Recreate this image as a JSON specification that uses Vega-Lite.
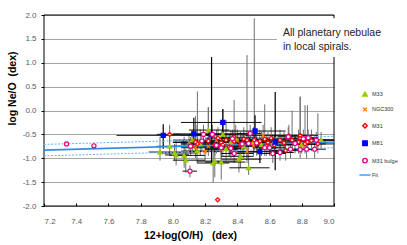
{
  "$schema": "https://vega.github.io/schema/vega-lite/v6.json",
  "width": 290,
  "height": 191,
  "autosize": "none",
  "padding": {"left": 44, "top": 15, "right": 73, "bottom": 39},
  "background": "white",
  "config": {
    "view": {"stroke": null},
    "font": "Liberation Sans",
    "axis": {"labelFont": "Liberation Sans", "titleFont": "Liberation Sans", "labelOverlap": false}
  },
  "datasets": {
    "pts": [
      {"g": "M33", "x": 7.92, "y": -0.87, "x1": 7.85, "x2": 8.05, "y1": -1.05, "y2": -0.55},
      {"g": "M33", "x": 7.98, "y": -0.75, "x1": 7.9, "x2": 8.1, "y1": -0.95, "y2": -0.5},
      {"g": "M33", "x": 8.01, "y": -0.89, "x1": 7.92, "x2": 8.15, "y1": -1.05, "y2": -0.7},
      {"g": "M33", "x": 8.02, "y": -0.93, "x1": 7.95, "x2": 8.1, "y1": -1.15, "y2": -0.65},
      {"g": "M33", "x": 8.07, "y": -0.94, "x1": 7.98, "x2": 8.2, "y1": -1.2, "y2": -0.55},
      {"g": "M33", "x": 8.08, "y": -1.04, "x1": 8.0, "x2": 8.2, "y1": -1.3, "y2": -0.8},
      {"g": "M33", "x": 8.15, "y": -0.85, "x1": 8.05, "x2": 8.3, "y1": -1.1, "y2": -0.3},
      {"g": "M33", "x": 8.17, "y": -0.7, "x1": 8.05, "x2": 8.3, "y1": -0.95, "y2": -0.4},
      {"g": "M33", "x": 8.22, "y": -0.41, "x1": 8.1, "x2": 8.35, "y1": -0.7, "y2": 0.07},
      {"g": "M33", "x": 8.25, "y": -1.1, "x1": 8.15, "x2": 8.35, "y1": -1.52, "y2": -0.75},
      {"g": "M33", "x": 8.26, "y": -1.06, "x1": 8.15, "x2": 8.4, "y1": -1.4, "y2": -0.6},
      {"g": "M33", "x": 8.3, "y": -1.08, "x1": 8.2, "x2": 8.45, "y1": -1.45, "y2": -0.8},
      {"g": "M33", "x": 8.31, "y": -0.5, "x1": 8.2, "x2": 8.4, "y1": -0.8, "y2": -0.2},
      {"g": "M33", "x": 8.33, "y": -0.8, "x1": 8.2, "x2": 8.45, "y1": -1.05, "y2": -0.5},
      {"g": "M33", "x": 8.39, "y": -0.59, "x1": 8.3, "x2": 8.5, "y1": -0.9, "y2": -0.3},
      {"g": "M33", "x": 8.41, "y": -1.02, "x1": 8.3, "x2": 8.55, "y1": -1.3, "y2": -0.7},
      {"g": "M33", "x": 8.42, "y": -0.96, "x1": 8.3, "x2": 8.5, "y1": -1.2, "y2": -0.6},
      {"g": "M33", "x": 8.47, "y": -1.2, "x1": 8.35, "x2": 8.6, "y1": -1.35, "y2": -0.9},
      {"g": "M33", "x": 8.44, "y": -0.75, "x1": 8.3, "x2": 8.6, "y1": -1.0, "y2": -0.5},
      {"g": "M33", "x": 8.5, "y": -0.66, "x1": 8.4, "x2": 8.6, "y1": -0.9, "y2": -0.35},
      {"g": "M33", "x": 8.55, "y": -0.72, "x1": 8.45, "x2": 8.65, "y1": -0.95, "y2": -0.45},
      {"g": "M33", "x": 8.62, "y": -0.7, "x1": 8.5, "x2": 8.75, "y1": -0.95, "y2": -0.5},
      {"g": "M33", "x": 8.8, "y": -0.71, "x1": 8.7, "x2": 8.9, "y1": -0.9, "y2": -0.5},
      {"g": "M33", "x": 8.92, "y": -0.61, "x1": 8.85, "x2": 9.0, "y1": -0.8, "y2": -0.45},
      {"g": "M33", "x": 8.12, "y": -0.62, "x1": 8.0, "x2": 8.25, "y1": -0.85, "y2": -0.4},
      {"g": "M33", "x": 8.36, "y": -0.66, "x1": 8.25, "x2": 8.45, "y1": -0.9, "y2": -0.4},
      {"g": "NGC300", "x": 8.1, "y": -0.67, "x1": 8.0, "x2": 8.2, "y1": -0.85, "y2": -0.5},
      {"g": "NGC300", "x": 8.154, "y": -0.66, "x1": 8.05, "x2": 8.25, "y1": -0.9, "y2": -0.45},
      {"g": "NGC300", "x": 8.22, "y": -0.75, "x1": 8.1, "x2": 8.35, "y1": -0.95, "y2": -0.55},
      {"g": "NGC300", "x": 8.27, "y": -0.63, "x1": 8.15, "x2": 8.4, "y1": -0.85, "y2": -0.4},
      {"g": "NGC300", "x": 8.2, "y": -0.86, "x1": 8.1, "x2": 8.3, "y1": -1.05, "y2": -0.65},
      {"g": "NGC300", "x": 8.46, "y": -0.87, "x1": 8.35, "x2": 8.55, "y1": -1.1, "y2": -0.6},
      {"g": "NGC300", "x": 8.56, "y": -0.52, "x1": 8.45, "x2": 8.7, "y1": -0.75, "y2": -0.3},
      {"g": "NGC300", "x": 8.35, "y": -0.72, "x1": 8.25, "x2": 8.45, "y1": -0.95, "y2": -0.5},
      {"g": "NGC300", "x": 8.4, "y": -0.63, "x1": 8.3, "x2": 8.5, "y1": -0.85, "y2": -0.4},
      {"g": "NGC300", "x": 8.3, "y": -0.82, "x1": 8.2, "x2": 8.4, "y1": -1.05, "y2": -0.6},
      {"g": "NGC300", "x": 8.14, "y": -0.78, "x1": 8.05, "x2": 8.25, "y1": -1.0, "y2": -0.55},
      {"g": "NGC300", "x": 8.5, "y": -0.74, "x1": 8.4, "x2": 8.6, "y1": -0.95, "y2": -0.5},
      {"g": "M31", "x": 7.98, "y": -0.5, "x1": 7.9, "x2": 8.05, "y1": -0.7, "y2": -0.3},
      {"g": "M31", "x": 8.278, "y": -1.87, "x1": 8.278, "x2": 8.278, "y1": -1.87, "y2": -1.87},
      {"g": "M31", "x": 8.26, "y": -0.72, "x1": 8.15, "x2": 8.35, "y1": -0.95, "y2": -0.5},
      {"g": "M31", "x": 8.3, "y": -0.67, "x1": 8.2, "x2": 8.4, "y1": -0.9, "y2": -0.45},
      {"g": "M31", "x": 8.28, "y": -0.58, "x1": 8.2, "x2": 8.4, "y1": -0.8, "y2": -0.35},
      {"g": "M31", "x": 8.33, "y": -0.62, "x1": 8.2, "x2": 8.45, "y1": -0.85, "y2": -0.2},
      {"g": "M31", "x": 8.35, "y": -0.76, "x1": 8.25, "x2": 8.45, "y1": -0.95, "y2": -0.55},
      {"g": "M31", "x": 8.38, "y": -0.65, "x1": 8.3, "x2": 8.5, "y1": -0.9, "y2": -0.4},
      {"g": "M31", "x": 8.42, "y": -0.72, "x1": 8.3, "x2": 8.55, "y1": -0.95, "y2": -0.45},
      {"g": "M31", "x": 8.44, "y": -0.6, "x1": 8.35, "x2": 8.55, "y1": -0.8, "y2": -0.35},
      {"g": "M31", "x": 8.46, "y": -0.62, "x1": 8.35, "x2": 8.6, "y1": -1.0, "y2": 1.16},
      {"g": "M31", "x": 8.505, "y": -0.62, "x1": 8.4, "x2": 8.6, "y1": -0.85, "y2": 1.93},
      {"g": "M31", "x": 8.52, "y": -0.7, "x1": 8.4, "x2": 8.65, "y1": -0.95, "y2": -0.45},
      {"g": "M31", "x": 8.54, "y": -0.64, "x1": 8.45, "x2": 8.65, "y1": -0.85, "y2": -0.4},
      {"g": "M31", "x": 8.57, "y": -0.6, "x1": 8.45, "x2": 8.7, "y1": -0.8, "y2": 0.13},
      {"g": "M31", "x": 8.59, "y": -0.67, "x1": 8.5, "x2": 8.7, "y1": -0.9, "y2": -0.45},
      {"g": "M31", "x": 8.61, "y": -0.58, "x1": 8.5, "x2": 8.75, "y1": -0.8, "y2": -0.35},
      {"g": "M31", "x": 8.63, "y": -0.72, "x1": 8.5, "x2": 8.75, "y1": -0.95, "y2": -0.5},
      {"g": "M31", "x": 8.665, "y": -0.62, "x1": 8.55, "x2": 8.8, "y1": -0.85, "y2": -0.4},
      {"g": "M31", "x": 8.69, "y": -0.68, "x1": 8.6, "x2": 8.8, "y1": -0.9, "y2": -0.45},
      {"g": "M31", "x": 8.7, "y": -0.84, "x1": 8.6, "x2": 8.8, "y1": -1.05, "y2": -0.6},
      {"g": "M31", "x": 8.72, "y": -0.53, "x1": 8.6, "x2": 8.85, "y1": -0.75, "y2": -0.3},
      {"g": "M31", "x": 8.74, "y": -0.62, "x1": 8.65, "x2": 8.85, "y1": -0.85, "y2": 0.0},
      {"g": "M31", "x": 8.78, "y": -0.66, "x1": 8.7, "x2": 8.9, "y1": -0.9, "y2": -0.4},
      {"g": "M31", "x": 8.79, "y": -0.58, "x1": 8.7, "x2": 8.9, "y1": -0.8, "y2": 0.29},
      {"g": "M31", "x": 8.82, "y": -0.7, "x1": 8.72, "x2": 8.95, "y1": -0.9, "y2": 0.11},
      {"g": "M31", "x": 8.835, "y": -0.66, "x1": 8.75, "x2": 8.95, "y1": -0.85, "y2": 0.11},
      {"g": "M31", "x": 8.86, "y": -0.63, "x1": 8.75, "x2": 9.0, "y1": -0.85, "y2": -0.4},
      {"g": "M31", "x": 8.38, "y": -0.56, "x1": 8.3, "x2": 8.5, "y1": -0.75, "y2": 0.22},
      {"g": "M31", "x": 8.152, "y": -0.7, "x1": 8.05, "x2": 8.3, "y1": -0.9, "y2": 0.4},
      {"g": "M31", "x": 8.22, "y": -0.64, "x1": 8.1, "x2": 8.35, "y1": -0.85, "y2": 0.07},
      {"g": "M31", "x": 8.31, "y": -0.72, "x1": 8.2, "x2": 8.45, "y1": -0.95, "y2": 0.03},
      {"g": "M31", "x": 8.58, "y": -0.74, "x1": 8.45, "x2": 8.7, "y1": -0.95, "y2": -0.5},
      {"g": "M31", "x": 8.14, "y": -0.66, "x1": 8.0, "x2": 8.25, "y1": -0.9, "y2": -0.12},
      {"g": "M31", "x": 8.9, "y": -0.7, "x1": 8.8, "x2": 9.0, "y1": -0.9, "y2": -0.06},
      {"g": "M31", "x": 8.79, "y": -0.52, "x1": 8.7, "x2": 8.9, "y1": -0.7, "y2": 0.29},
      {"g": "M81", "x": 7.94, "y": -0.52, "x1": 7.65, "x2": 8.25, "y1": -0.8, "y2": -0.29},
      {"g": "M81", "x": 8.13, "y": -0.49, "x1": 8.0, "x2": 8.45, "y1": -0.75, "y2": -0.15},
      {"g": "M81", "x": 8.24, "y": -0.51, "x1": 8.05, "x2": 8.5, "y1": -1.1, "y2": 1.12},
      {"g": "M81", "x": 8.31, "y": -0.25, "x1": 8.05, "x2": 8.55, "y1": -0.6, "y2": 0.03},
      {"g": "M81", "x": 8.51, "y": -0.43, "x1": 8.3, "x2": 8.7, "y1": -0.7, "y2": -0.1},
      {"g": "M81", "x": 8.54, "y": -0.86, "x1": 8.4, "x2": 8.7, "y1": -1.1, "y2": -0.6},
      {"g": "M81", "x": 8.635, "y": -0.66, "x1": 8.5, "x2": 8.8, "y1": -1.25, "y2": 0.39},
      {"g": "M31 bulge", "x": 7.34, "y": -0.7, "x1": 7.34, "x2": 7.34, "y1": -0.7, "y2": -0.7},
      {"g": "M31 bulge", "x": 7.51, "y": -0.74, "x1": 7.51, "x2": 7.51, "y1": -0.74, "y2": -0.74},
      {"g": "M31 bulge", "x": 8.106, "y": -1.27, "x1": 8.06, "x2": 8.15, "y1": -1.4, "y2": -1.15},
      {"g": "M31 bulge", "x": 8.19, "y": -0.5, "x1": 8.1, "x2": 8.3, "y1": -0.7, "y2": -0.3},
      {"g": "M31 bulge", "x": 8.18, "y": -0.64, "x1": 8.1, "x2": 8.3, "y1": -0.85, "y2": -0.45},
      {"g": "M31 bulge", "x": 8.11, "y": -0.75, "x1": 8.0, "x2": 8.2, "y1": -0.95, "y2": -0.55},
      {"g": "M31 bulge", "x": 8.27, "y": -0.73, "x1": 8.2, "x2": 8.35, "y1": -0.9, "y2": -0.55},
      {"g": "M31 bulge", "x": 8.245, "y": -0.5, "x1": 8.15, "x2": 8.35, "y1": -0.7, "y2": -0.3},
      {"g": "M31 bulge", "x": 8.37, "y": -0.59, "x1": 8.3, "x2": 8.45, "y1": -0.8, "y2": -0.4},
      {"g": "M31 bulge", "x": 8.38, "y": -0.9, "x1": 8.3, "x2": 8.5, "y1": -1.1, "y2": -0.7},
      {"g": "M31 bulge", "x": 8.48, "y": -0.48, "x1": 8.4, "x2": 8.55, "y1": -0.7, "y2": -0.3},
      {"g": "M31 bulge", "x": 8.47, "y": -0.69, "x1": 8.4, "x2": 8.55, "y1": -0.9, "y2": -0.5},
      {"g": "M31 bulge", "x": 8.57, "y": -0.78, "x1": 8.5, "x2": 8.65, "y1": -0.95, "y2": -0.6},
      {"g": "M31 bulge", "x": 8.6, "y": -0.78, "x1": 8.5, "x2": 8.7, "y1": -0.95, "y2": -0.6},
      {"g": "M31 bulge", "x": 8.62, "y": -0.9, "x1": 8.55, "x2": 8.7, "y1": -1.1, "y2": -0.7},
      {"g": "M31 bulge", "x": 8.36, "y": -0.79, "x1": 8.3, "x2": 8.45, "y1": -1.0, "y2": -0.6},
      {"g": "M31 bulge", "x": 8.665, "y": -0.88, "x1": 8.6, "x2": 8.75, "y1": -1.05, "y2": -0.7},
      {"g": "M31 bulge", "x": 8.716, "y": -0.55, "x1": 8.65, "x2": 8.8, "y1": -0.75, "y2": -0.35},
      {"g": "M31 bulge", "x": 8.73, "y": -0.81, "x1": 8.65, "x2": 8.8, "y1": -1.0, "y2": -0.6},
      {"g": "M31 bulge", "x": 8.758, "y": -0.69, "x1": 8.7, "x2": 8.85, "y1": -0.9, "y2": -0.5},
      {"g": "M31 bulge", "x": 8.79, "y": -0.82, "x1": 8.7, "x2": 8.85, "y1": -1.0, "y2": -0.65},
      {"g": "M31 bulge", "x": 8.81, "y": -0.59, "x1": 8.75, "x2": 8.9, "y1": -0.8, "y2": -0.4},
      {"g": "M31 bulge", "x": 8.84, "y": -0.57, "x1": 8.75, "x2": 8.9, "y1": -0.75, "y2": -0.4},
      {"g": "M31 bulge", "x": 8.83, "y": -0.81, "x1": 8.75, "x2": 8.9, "y1": -1.0, "y2": -0.65},
      {"g": "M31 bulge", "x": 8.88, "y": -0.81, "x1": 8.8, "x2": 8.95, "y1": -1.0, "y2": -0.65},
      {"g": "M31 bulge", "x": 8.89, "y": -0.62, "x1": 8.8, "x2": 8.95, "y1": -0.8, "y2": -0.45},
      {"g": "M31 bulge", "x": 8.3, "y": -0.78, "x1": 8.2, "x2": 8.4, "y1": -0.95, "y2": -0.6},
      {"g": "M31 bulge", "x": 8.52, "y": -0.68, "x1": 8.45, "x2": 8.6, "y1": -0.85, "y2": -0.5},
      {"g": "M31 bulge", "x": 8.43, "y": -0.7, "x1": 8.35, "x2": 8.5, "y1": -0.9, "y2": -0.5}
    ],
    "fit": [
      {"k": "fit", "x": 7.2, "y": -0.83},
      {"k": "fit", "x": 9.0, "y": -0.66},
      {"k": "upper", "x": 7.2, "y": -0.71},
      {"k": "upper", "x": 9.0, "y": -0.54},
      {"k": "lower", "x": 7.2, "y": -0.95},
      {"k": "lower", "x": 9.0, "y": -0.78}
    ],
    "note": [
      {"t": "All planetary nebulae", "x": 8.683, "y": 1.62},
      {"t": "in local spirals.", "x": 8.683, "y": 1.33}
    ],
    "frame": [{"x": 7.2, "x2": 9.0, "y": -2.0, "y2": 2.0}],
    "box": [{"x": 8.645, "x2": 9.36, "y": 1.12, "y2": 1.93}]
  },
  "layer": [
    {
      "data": {"name": "frame"},
      "mark": {"type": "rect", "fill": null, "fillOpacity": 0, "stroke": "#000000", "strokeWidth": 1},
      "encoding": {
        "x": {"field": "x", "type": "quantitative",
          "scale": {"domain": [7.2, 9.0], "nice": false, "zero": false},
          "axis": {
            "values": [7.2, 7.4, 7.6, 7.8, 8.0, 8.2, 8.4, 8.6, 8.8, 9.0], "tickCount": 30,
            "format": ".1f", "grid": false, "domain": false, "labelOverlap": false,
            "ticks": true, "tickSize": -3, "tickColor": "#000000",
            "labelFontSize": 8, "labelColor": "#595959", "labelPadding": 14,
            "title": "12+log(O/H)\u00a0\u00a0\u00a0(dex)",
            "titleFontSize": 10.5, "titleFontWeight": "bold", "titleColor": "#000000",
            "titleX": 146, "titleY": 29, "titleBaseline": "middle", "titleAlign": "center"
          }
        },
        "x2": {"field": "x2"},
        "y": {"field": "y", "type": "quantitative",
          "scale": {"domain": [-2, 2], "nice": false, "zero": false},
          "axis": {
            "values": [-2, -1.5, -1, -0.5, 0, 0.5, 1, 1.5, 2], "tickCount": 30,
            "labelExpr": "replace(format(datum.value, '.1f'), '\u2212', '-')",
            "grid": true, "gridColor": "#a6a6a6", "gridWidth": 1, "labelOverlap": false,
            "domain": false, "ticks": true, "tickSize": 3, "tickColor": "#000000",
            "labelFontSize": 8, "labelColor": "#595959", "labelPadding": 5,
            "title": "log Ne/O\u00a0\u00a0(dex)",
            "titleFontSize": 10.5, "titleFontWeight": "bold", "titleColor": "#000000",
            "titleX": -32, "titleY": 73, "titleBaseline": "middle", "titleAlign": "center", "titleAngle": -90
          }
        },
        "y2": {"field": "y2"}
      }
    },
    {
      "data": {"name": "box"},
      "mark": {"type": "rect", "fill": "#ffffff", "stroke": null, "clip": false},
      "encoding": {
        "x": {"field": "x", "type": "quantitative"},
        "x2": {"field": "x2"},
        "y": {"field": "y", "type": "quantitative"},
        "y2": {"field": "y2"}
      }
    },
    {
      "data": {"name": "pts"},
      "transform": [{"filter": "datum.g !== 'M81'"}],
      "mark": {"type": "rule", "color": "#6e6e6e", "strokeWidth": 1},
      "encoding": {
        "x": {"field": "x", "type": "quantitative"},
        "y": {"field": "y1", "type": "quantitative"},
        "y2": {"field": "y2"}
      }
    },
    {
      "data": {"name": "pts"},
      "transform": [{"filter": "datum.g === 'M81'"}],
      "mark": {"type": "rule", "color": "#000000", "strokeWidth": 1.2},
      "encoding": {
        "x": {"field": "x", "type": "quantitative"},
        "y": {"field": "y1", "type": "quantitative"},
        "y2": {"field": "y2"}
      }
    },
    {
      "data": {"name": "pts"},
      "mark": {"type": "rule", "color": "#111111", "strokeWidth": 1},
      "encoding": {
        "x": {"field": "x1", "type": "quantitative"},
        "x2": {"field": "x2"},
        "y": {"field": "y", "type": "quantitative"}
      }
    },
    {
      "data": {"name": "fit"},
      "transform": [{"filter": "datum.k !== 'fit'"}],
      "mark": {"type": "line", "color": "#66b3ff", "strokeWidth": 1, "strokeDash": [2, 1.5]},
      "encoding": {
        "x": {"field": "x", "type": "quantitative"},
        "y": {"field": "y", "type": "quantitative"},
        "detail": {"field": "k"}
      }
    },
    {
      "data": {"name": "fit"},
      "transform": [{"filter": "datum.k === 'fit'"}],
      "mark": {"type": "line", "color": "#2e8be6", "strokeWidth": 1.6},
      "encoding": {
        "x": {"field": "x", "type": "quantitative"},
        "y": {"field": "y", "type": "quantitative"}
      }
    },
    {
      "data": {"name": "pts"},
      "mark": {"type": "point", "filled": false, "strokeWidth": 1.2, "opacity": 1},
      "encoding": {
        "x": {"field": "x", "type": "quantitative"},
        "y": {"field": "y", "type": "quantitative"},
        "shape": {"field": "g", "type": "nominal",
          "scale": {"domain": ["M33", "NGC300", "M31", "M81", "M31 bulge", "Fit"],
            "range": ["triangle-up", "M-0.8,-0.8L0.8,0.8M-0.8,0.8L0.8,-0.8", "diamond", "square", "circle", "M-2.5,0L2.5,0"]},
          "legend": {
            "title": null, "orient": "none", "legendX": 318, "legendY": 76,
            "padding": 0, "labelFontSize": 5.5, "labelColor": "#333333", "labelFont": "Liberation Sans",
            "symbolSize": 20, "symbolStrokeWidth": 1.4, "rowPadding": 5.4, "labelOffset": 4
          }
        },
        "stroke": {"field": "g", "type": "nominal",
          "scale": {"domain": ["M33", "NGC300", "M31", "M81", "M31 bulge", "Fit"],
            "range": ["#99cc00", "#ff7f0e", "#ff0000", "#0000ff", "#e6007e", "#3399ff"]},
          "legend": {
            "title": null, "orient": "none", "legendX": 318, "legendY": 76,
            "padding": 0, "labelFontSize": 5.5, "labelColor": "#333333", "labelFont": "Liberation Sans",
            "symbolSize": 20, "symbolStrokeWidth": 1.4, "rowPadding": 5.4, "labelOffset": 4
          }
        },
        "fill": {"field": "g", "type": "nominal",
          "scale": {"domain": ["M33", "NGC300", "M31", "M81", "M31 bulge", "Fit"],
            "range": ["#99cc00", "transparent", "#ffffff", "#0000ff", "#ffffff", "transparent"]},
          "legend": {
            "title": null, "orient": "none", "legendX": 318, "legendY": 76,
            "padding": 0, "labelFontSize": 5.5, "labelColor": "#333333", "labelFont": "Liberation Sans",
            "symbolSize": 20, "symbolStrokeWidth": 1.4, "rowPadding": 5.4, "labelOffset": 4
          }
        },
        "size": {"value": 17}
      }
    },
    {
      "data": {"name": "note"},
      "mark": {"type": "text", "align": "left", "baseline": "middle", "font": "Liberation Sans", "fontSize": 10.5, "color": "#222222", "clip": false},
      "encoding": {
        "x": {"field": "x", "type": "quantitative"},
        "y": {"field": "y", "type": "quantitative"},
        "text": {"field": "t"}
      }
    }
  ]
}
